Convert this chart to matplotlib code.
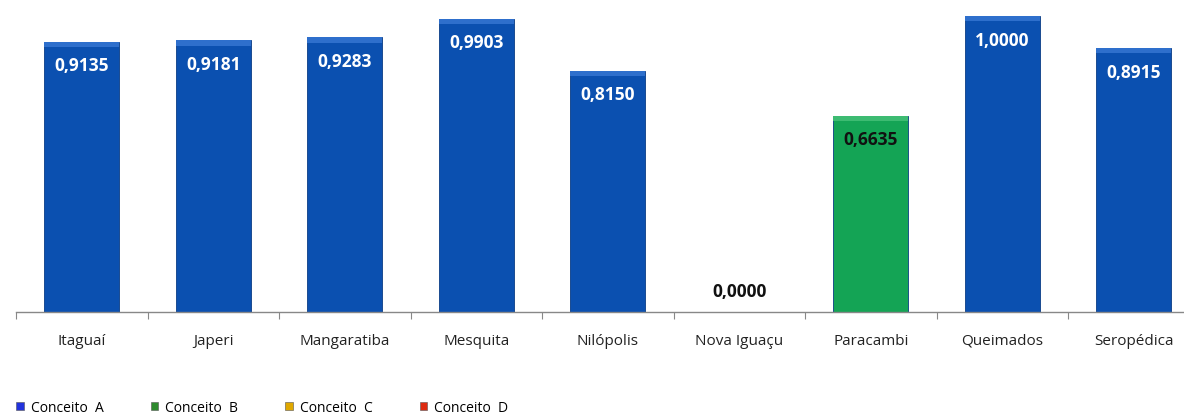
import matplotlib.pyplot as plt
from matplotlib.patches import Patch

# municipality scores
cities = ['Itaguaí', 'Japeri', 'Mangaratiba', 'Mesquita', 'Nilópolis',
          'Nova Iguaçu', 'Paracambi', 'Queimados', 'Seropédica']
values = [0.9135, 0.9181, 0.9283, 0.9903, 0.8150, 0.0000, 0.6635, 1.0000, 0.8915]
concepts = ['A', 'A', 'A', 'A', 'A', 'A', 'B', 'A', 'A']

concept_colors = {'A': '#0B50B0', 'B': '#14A455', 'C': '#E8B400', 'D': '#E03A12'}
legend_colors = {'A': '#2233DD', 'B': '#2E8B2E', 'C': '#E0A800', 'D': '#DD2A10'}
top_colors = {'A': '#2E6FCC', 'B': '#3DBB72'}

plt.rcParams['font.family'] = ['Open Sans', 'DejaVu Sans']

fig = plt.figure(figsize=(11.84, 4.14), dpi=100)
# axis extends a bit past the right edge, as in the original (cropped)
ax = fig.add_axes([16 / 1184, (414 - 313) / 414, 1183.5 / 1184, 296 / 414])

x = list(range(len(cities)))
cols = [concept_colors[c] for c in concepts]
ax.bar(x, values, width=0.57, color=cols, edgecolor='#0A3C85', linewidth=0.6, zorder=2)
# light bevel strip on the top of each bar
bev = [top_colors[c] for c in concepts]
ax.bar(x, [0.018 if v > 0 else 0 for v in values], bottom=[v - 0.018 for v in values],
       width=0.57, color=bev, linewidth=0, zorder=3)

for i, (v, c) in enumerate(zip(values, concepts)):
    if v == 0:
        ax.annotate('0,0000', (i, v), xytext=(0, 15), textcoords='offset points',
                    ha='center', va='center', fontsize=12.5, fontweight='bold', color='#111111')
    else:
        txt = f'{v:.4f}'.replace('.', ',')
        color = 'white' if c == 'A' else '#111111'
        ax.annotate(txt, (i, v), xytext=(0, -17), textcoords='offset points',
                    ha='center', va='center', fontsize=12.5, fontweight='bold', color=color, zorder=4)

ax.set_xlim(-0.5, len(cities) - 0.5)
ax.set_ylim(0, 1.0)
ax.set_xticks([i - 0.5 for i in range(len(cities) + 1)])
ax.set_xticklabels([])
ax.set_xticks(x, minor=True)
ax.set_xticklabels(cities, minor=True, fontsize=11, color='#222222')
ax.tick_params(axis='x', which='major', length=5, color='#888888', direction='out')
ax.tick_params(axis='x', which='minor', length=0, pad=15)
ax.set_yticks([])
for s in ['top', 'right', 'left']:
    ax.spines[s].set_visible(False)
ax.spines['bottom'].set_color('#888888')
ax.spines['bottom'].set_linewidth(1.0)

handles = [Patch(facecolor=legend_colors[k], edgecolor='#555555', linewidth=0.4,
                 label=f'Conceito  {k}') for k in ['A', 'B', 'C', 'D']]
fig.legend(handles=handles, loc='lower left', bbox_to_anchor=(0.003, -0.035), ncol=4,
           frameon=False, fontsize=10, handlelength=0.55, handleheight=0.55,
           handletextpad=0.5, columnspacing=3.4)

fig.savefig('out.png', dpi=100)
